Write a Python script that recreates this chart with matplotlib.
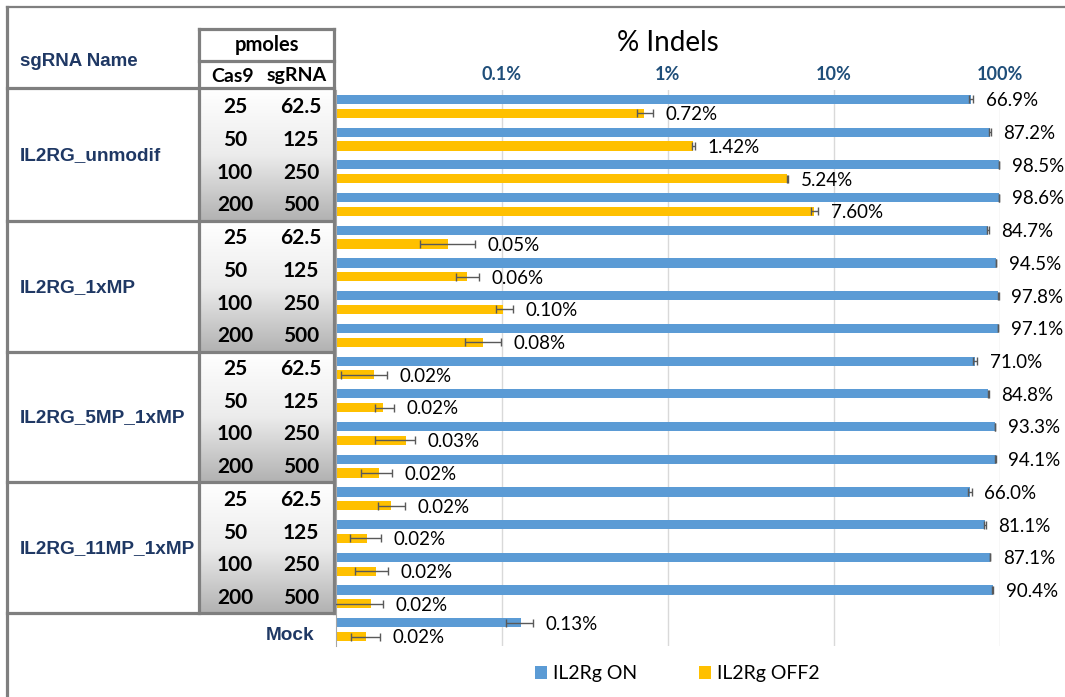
import numpy as np
import matplotlib
matplotlib.use('Agg')
import matplotlib.pyplot as plt
from matplotlib import font_manager
from matplotlib.colors import LinearSegmentedColormap
from matplotlib.ticker import NullLocator

# data
groups = ['IL2RG_unmodif', 'IL2RG_1xMP', 'IL2RG_5MP_1xMP', 'IL2RG_11MP_1xMP']
cas9 = ['25', '50', '100', '200']
sgrna = ['62.5', '125', '250', '500']

on_vals = [66.9, 87.2, 98.5, 98.6, 84.7, 94.5, 97.8, 97.1,
           71.0, 84.8, 93.3, 94.1, 66.0, 81.1, 87.1, 90.4, 0.13]
on_err = [2.0, 1.2, 0.3, 0.3, 1.2, 0.5, 0.4, 0.5,
          1.8, 0.5, 0.5, 0.5, 1.8, 1.0, 0.5, 0.5, 0.024]
on_labels = ['66.9%', '87.2%', '98.5%', '98.6%', '84.7%', '94.5%', '97.8%', '97.1%',
             '71.0%', '84.8%', '93.3%', '94.1%', '66.0%', '81.1%', '87.1%', '90.4%', '0.13%']

off_vals = [0.72, 1.42, 5.24, 7.60, 0.047, 0.0615, 0.102, 0.077,
            0.0169, 0.0191, 0.0264, 0.0182, 0.0214, 0.0154, 0.0174, 0.0162, 0.0152]
off_lo = [0.065, 0.03, 0.06, 0.3, 0.015, 0.009, 0.0106, 0.0168,
          0.0062, 0.0019, 0.0092, 0.0041, 0.0036, 0.0032, 0.0043, 0.0065, 0.0029]
off_hi = [0.09, 0.03, 0.06, 0.45, 0.022, 0.011, 0.014, 0.0216,
          0.0033, 0.0033, 0.0035, 0.0035, 0.0045, 0.0033, 0.0033, 0.0031, 0.0031]
off_labels = ['0.72%', '1.42%', '5.24%', '7.60%', '0.05%', '0.06%', '0.10%', '0.08%',
              '0.02%', '0.02%', '0.03%', '0.02%', '0.02%', '0.02%', '0.02%', '0.02%', '0.02%']

xticks = [0.1, 1, 10, 100]
xticklabels = ['0.1%', '1%', '10%', '100%']

W, H = 1065, 697
blue = '#5B9BD5'
gold = '#FFC000'
line_c = '#7F7F7F'
navy = '#1F3864'

# narrow font for the sgRNA names if there is one
try:
    font_manager.findfont('Liberation Sans Narrow', fallback_to_default=False)
    name_font, name_size = 'Liberation Sans Narrow', 16
except ValueError:
    name_font, name_size = 'Liberation Sans', 13.7

fig = plt.figure(figsize=(W / 100, H / 100), dpi=100)

# background / table layer in pixel coords
ax0 = fig.add_axes([0, 0, 1, 1])
ax0.set_xlim(0, W)
ax0.set_ylim(H, 0)
ax0.axis('off')

top, bot = 90, 646
n = len(on_vals)
pitch = (bot - top) / n
bounds = [top + 4 * k * pitch for k in range(5)]
bounds[0] = 88

cmap = LinearSegmentedColormap.from_list('g', ['#ffffff', '#ececec', '#b2b2b2'])
grad = np.linspace(0, 1, 100).reshape(-1, 1)
for k in range(4):
    ax0.imshow(grad, cmap=cmap, extent=[199, 334, bounds[k + 1], bounds[k]],
               aspect='auto', zorder=0, interpolation='bilinear')

lw = 2.3
ax0.plot([7, W], [7, 7], color=line_c, lw=1.6)
ax0.plot([7, 7], [7, H], color=line_c, lw=lw)
ax0.plot([199, 334], [29, 29], color=line_c, lw=lw, solid_capstyle='projecting')
ax0.plot([199, 334], [61, 61], color=line_c, lw=lw)
for b in bounds:
    ax0.plot([7, 334], [b, b], color=line_c, lw=lw, solid_capstyle='projecting')
ax0.plot([199, 199], [29, bounds[-1]], color=line_c, lw=lw)
ax0.plot([334, 334], [29, bounds[-1]], color=line_c, lw=lw)

ax0.text(20, 62, 'sgRNA Name', color=navy, fontsize=13.5, fontweight='bold',
         family='Liberation Sans', ha='left', va='center')
ax0.text(267, 45, 'pmoles', fontsize=14.5, fontweight='bold', family='Lato',
         ha='center', va='center')
ax0.text(233, 76, 'Cas9', fontsize=14, fontweight='bold', family='Lato',
         ha='center', va='center')
ax0.text(297, 76, 'sgRNA', fontsize=14, fontweight='bold', family='Lato',
         ha='center', va='center')

for k, g in enumerate(groups):
    ax0.text(20, (bounds[k] + bounds[k + 1]) / 2 + 1, g, color=navy, fontsize=name_size,
             fontweight='bold', family=name_font, ha='left', va='center')
    for j in range(4):
        yy = top + (4 * k + j + 0.5) * pitch + 1
        ax0.text(235, yy, cas9[j], fontsize=15, fontweight='bold', family='Lato',
                 ha='center', va='center')
        ax0.text(301, yy, sgrna[j], fontsize=15, fontweight='bold', family='Lato',
                 ha='center', va='center')
ax0.text(314, 635, 'Mock', color=navy, fontsize=name_size,
         fontweight='bold', family=name_font, ha='right', va='center')

ax0.text(668, 43, '% Indels', fontsize=20, family='Lato', ha='center', va='center')

# chart
ax = fig.add_axes([336 / W, (H - bot) / H, (1000 - 336) / W, (bot - top) / H])
ax.patch.set_alpha(0)
ax.set_xscale('log')
base = 0.01
y = np.arange(n)
bh = 0.28
on_b = ax.barh(y - 0.21, np.array(on_vals) - base, left=base, height=bh,
               color=blue, label='IL2Rg ON', zorder=2)
off_b = ax.barh(y + 0.21, np.array(off_vals) - base, left=base, height=bh,
                color=gold, label='IL2Rg OFF2', zorder=2)
ax.errorbar(on_vals, y - 0.21, xerr=on_err, fmt='none', ecolor='#595959',
            elinewidth=1, capsize=3, zorder=3)
ax.errorbar(off_vals, y + 0.21, xerr=[off_lo, off_hi], fmt='none', ecolor='#595959',
            elinewidth=1, capsize=3, zorder=3)

for i in range(n):
    ax.annotate(on_labels[i], (on_vals[i] + on_err[i], i - 0.21), xytext=(9, -1),
                textcoords='offset points', va='center', ha='left', fontsize=13.5,
                family='Lato', annotation_clip=False)
    ax.annotate(off_labels[i], (off_vals[i] + off_hi[i], i + 0.21), xytext=(9, -1),
                textcoords='offset points', va='center', ha='left', fontsize=13.5,
                family='Lato', annotation_clip=False)

ax.set_xlim(base, 100)
ax.set_ylim(n - 0.5, -0.5)
ax.xaxis.tick_top()
ax.set_xticks(xticks)
ax.set_xticklabels(xticklabels)
ax.xaxis.set_minor_locator(NullLocator())
ax.tick_params(axis='x', length=0, pad=5, labelsize=13, labelcolor='#1F4E79')
for t in ax.get_xticklabels():
    t.set_fontweight('bold')
    t.set_family('Lato')
ax.set_yticks([])
ax.grid(axis='x', color='#D9D9D9', lw=1, zorder=0)
ax.set_axisbelow(True)
for s in ['top', 'right', 'bottom']:
    ax.spines[s].set_visible(False)
ax.spines['left'].set_color('#A6A6A6')

fig.legend(handles=[on_b, off_b], labels=['IL2Rg ON', 'IL2Rg OFF2'], loc='center',
           bbox_to_anchor=(677 / W, 1 - 674 / H), ncol=2, frameon=False,
           handlelength=0.62, handleheight=0.62, handletextpad=0.3, columnspacing=3.2,
           prop={'family': 'Lato', 'size': 14})

plt.savefig('out.png', dpi=100)
